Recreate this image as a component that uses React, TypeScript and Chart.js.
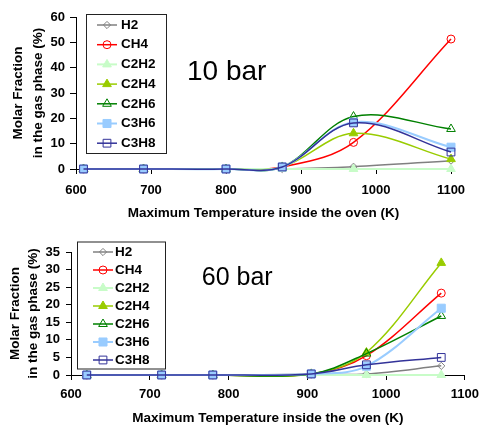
import React, { useEffect, useRef } from 'react';
import { Chart, registerables } from 'chart.js';
import { drawPoint } from 'chart.js/helpers';

Chart.register(...registerables);

// ---------- DATA ----------
const SPECIES = ['H2', 'CH4', 'C2H2', 'C2H4', 'C2H6', 'C3H6', 'C3H8'];

// 10 bar
const TEMP_10BAR = [610, 690, 800, 875, 970, 1100];
const H2_10BAR = [0, 0, 0, 0, 0.9, 3.3];
const CH4_10BAR = [0, 0, 0, 0.8, 10.5, 51.3];
const C2H2_10BAR = [0, 0, 0, 0, 0, 0];
const C2H4_10BAR = [0, 0, 0, 0.8, 14.1, 3.9];
const C2H6_10BAR = [0, 0, 0, 0.8, 20.7, 15.8];
const C3H6_10BAR = [0, 0, 0, 0.8, 18.5, 8.6];
const C3H8_10BAR = [0, 0, 0, 0.8, 18.2, 6.7];

// 60 bar
const TEMP_60BAR = [620, 715, 780, 905, 975, 1070];
const H2_60BAR = [0, 0, 0, 0.2, 0.3, 2.6];
const CH4_60BAR = [0, 0, 0, 0.3, 5.5, 23.3];
const C2H2_60BAR = [0, 0, 0, 0, 0, 0];
const C2H4_60BAR = [0, 0, 0, 0.3, 6.4, 31.9];
const C2H6_60BAR = [0, 0, 0, 0.3, 6.1, 16.8];
const C3H6_60BAR = [0, 0, 0, 0.3, 2.5, 19.0];
const C3H8_60BAR = [0, 0, 0, 0.3, 2.9, 5.0];

const SERIES_10BAR = [H2_10BAR, CH4_10BAR, C2H2_10BAR, C2H4_10BAR, C2H6_10BAR, C3H6_10BAR, C3H8_10BAR];
const SERIES_60BAR = [H2_60BAR, CH4_60BAR, C2H2_60BAR, C2H4_60BAR, C2H6_60BAR, C3H6_60BAR, C3H8_60BAR];

const X_MIN = 600;
const X_MAX = 1100;
const X_STEP = 100;
const Y_MAX_10BAR = 60;
const Y_STEP_10BAR = 10;
const Y_MAX_60BAR = 35;
const Y_STEP_60BAR = 5;

const Y_TITLE = ['Molar Fraction', 'in the gas phase (%)'];
const X_TITLE = 'Maximum Temperature inside the oven (K)';
const LABEL_10BAR = '10 bar';
const LABEL_60BAR = '60 bar';

// ---------- STYLES ----------
const FONT = '"Liberation Sans", Arial, Helvetica, sans-serif';
const STYLES = [
  { color: '#808080', fill: 'rgba(0,0,0,0)', pointStyle: 'rectRot', radius: 3.6, width: 1.5 },
  { color: '#FF0000', fill: 'rgba(0,0,0,0)', pointStyle: 'circle', radius: 4, width: 1.5 },
  { color: '#C8FCC8', fill: '#C8FCC8', pointStyle: 'triangle', radius: 5, width: 2 },
  { color: '#99CC00', fill: '#99CC00', pointStyle: 'triangle', radius: 5, width: 1.5 },
  { color: '#008000', fill: 'rgba(0,0,0,0)', pointStyle: 'triangle', radius: 5, width: 1.5 },
  { color: '#99CCFF', fill: '#99CCFF', pointStyle: 'rect', radius: 5.7, width: 2 },
  { color: '#333399', fill: 'rgba(0,0,0,0)', pointStyle: 'rect', radius: 5.5, width: 1.5 },
];

function makeDatasets(xs: number[], series: number[][]) {
  return series.map((ys, i) => {
    const s = STYLES[i];
    return {
      label: SPECIES[i],
      data: xs.map((x, j) => ({ x, y: ys[j] })),
      borderColor: s.color,
      borderWidth: s.width,
      backgroundColor: s.fill,
      pointStyle: s.pointStyle,
      pointRadius: s.radius,
      pointBackgroundColor: s.fill,
      pointBorderColor: s.color,
      pointBorderWidth: 1,
      tension: 0.35,
      clip: false,
      order: SPECIES.length - i,
    };
  });
}

type LegendBox = {
  left: number; top: number; width: number; height: number;
  firstRow: number; rowGap: number; lineX1: number; lineX2: number; textX: number; fontSize: number;
};

function legendPlugin(box: LegendBox) {
  return {
    id: 'boxLegend',
    afterDatasetsDraw(chart: any) {
      const ctx = chart.ctx;
      ctx.save();
      ctx.fillStyle = '#ffffff';
      ctx.fillRect(box.left, box.top, box.width, box.height);
      ctx.strokeStyle = '#222';
      ctx.lineWidth = 1;
      ctx.strokeRect(box.left + 0.5, box.top + 0.5, box.width, box.height);
      chart.data.datasets.forEach((ds: any, i: number) => {
        const y = box.firstRow + i * box.rowGap;
        ctx.strokeStyle = ds.borderColor;
        ctx.lineWidth = ds.borderWidth;
        ctx.beginPath();
        ctx.moveTo(box.lineX1, y);
        ctx.lineTo(box.lineX2, y);
        ctx.stroke();
        ctx.fillStyle = ds.pointBackgroundColor;
        ctx.strokeStyle = ds.pointBorderColor;
        ctx.lineWidth = ds.pointBorderWidth;
        drawPoint(ctx, { pointStyle: ds.pointStyle, radius: ds.pointRadius, rotation: 0, borderWidth: ds.pointBorderWidth } as any,
          (box.lineX1 + box.lineX2) / 2, y);
        ctx.fillStyle = '#000';
        ctx.font = `bold ${box.fontSize}px ${FONT}`;
        ctx.textAlign = 'left';
        ctx.textBaseline = 'middle';
        ctx.fillText(ds.label, box.textX, y);
      });
      ctx.restore();
    },
  };
}

function textPlugin(text: string, xVal: number, yVal: number, size: number) {
  return {
    id: 'pressureText',
    afterDraw(chart: any) {
      const ctx = chart.ctx;
      const x = chart.scales.x.getPixelForValue(xVal);
      const y = chart.scales.y.getPixelForValue(yVal);
      ctx.save();
      ctx.fillStyle = '#000';
      ctx.font = `${size}px ${FONT}`;
      ctx.textAlign = 'left';
      ctx.textBaseline = 'middle';
      ctx.fillText(text, x, y);
      ctx.restore();
    },
  };
}

type Cfg = {
  height: number;
  xs: number[];
  series: number[][];
  yMax: number;
  yStep: number;
  padding: { top: number; right: number };
  yWidth: number;
  xHeight: number;
  tickFont: number;
  xTickPad: number;
  yTickLen: number;
  yTickPad: number;
  yTitleLineHeight: number;
  yTitlePad: number;
  xTitleLineHeight: number;
  legend: LegendBox;
  label: { text: string; x: number; y: number; size: number };
};

function buildConfig(c: Cfg): any {
  return {
    type: 'line',
    data: { datasets: makeDatasets(c.xs, c.series) },
    options: {
      responsive: false,
      animation: false,
      events: [],
      layout: { padding: { left: 0, top: c.padding.top, right: c.padding.right, bottom: 0 } },
      elements: { line: { capBezierPoints: false } },
      plugins: { legend: { display: false }, tooltip: { enabled: false } },
      scales: {
        x: {
          type: 'linear',
          min: X_MIN,
          max: X_MAX,
          afterFit: (s: any) => { s.height = c.xHeight; },
          grid: { display: true, drawOnChartArea: false, drawTicks: true, tickLength: 5, color: '#000' },
          border: { display: true, color: '#000', width: 1 },
          ticks: {
            stepSize: X_STEP,
            autoSkip: false,
            color: '#000',
            padding: c.xTickPad,
            maxRotation: 0,
            font: { family: FONT, size: c.tickFont, weight: 'bold', lineHeight: 1.2 },
            callback: (v: any) => String(v),
          },
          title: {
            display: true,
            text: X_TITLE,
            color: '#000',
            padding: { top: 0, bottom: 0 },
            font: { family: FONT, size: 13.5, weight: 'bold', lineHeight: `${c.xTitleLineHeight}px` },
          },
        },
        y: {
          type: 'linear',
          min: 0,
          max: c.yMax,
          afterFit: (s: any) => { s.width = c.yWidth; },
          grid: { display: true, drawOnChartArea: false, drawTicks: true, tickLength: c.yTickLen, color: '#000' },
          border: { display: true, color: '#000', width: 1 },
          ticks: {
            stepSize: c.yStep,
            autoSkip: false,
            color: '#000',
            padding: c.yTickPad,
            font: { family: FONT, size: c.tickFont, weight: 'bold', lineHeight: 1.2 },
          },
          title: {
            display: true,
            text: Y_TITLE,
            color: '#000',
            padding: { top: c.yTitlePad, bottom: 0 },
            font: { family: FONT, size: 13.5, weight: 'bold', lineHeight: `${c.yTitleLineHeight}px` },
          },
        },
      },
    },
    plugins: [legendPlugin(c.legend), textPlugin(c.label.text, c.label.x, c.label.y, c.label.size)],
  };
}

const TOP: Cfg = {
  height: 221,
  xs: TEMP_10BAR,
  series: SERIES_10BAR,
  yMax: Y_MAX_10BAR,
  yStep: Y_STEP_10BAR,
  padding: { top: 17, right: 35 },
  yWidth: 76,
  xHeight: 52,
  tickFont: 13,
  xTickPad: 9,
  yTickLen: 6,
  yTickPad: 5,
  yTitleLineHeight: 20,
  yTitlePad: 8,
  xTitleLineHeight: 16,
  legend: { left: 86, top: 14, width: 80, height: 139, firstRow: 25, rowGap: 19.7, lineX1: 97, lineX2: 117, textX: 121, fontSize: 13.5 },
  label: { text: LABEL_10BAR, x: 748, y: 38.3, size: 28 },
};

const BOTTOM: Cfg = {
  height: 204,
  xs: TEMP_60BAR,
  series: SERIES_60BAR,
  yMax: Y_MAX_60BAR,
  yStep: Y_STEP_60BAR,
  padding: { top: 31, right: 16 },
  yWidth: 71,
  xHeight: 50,
  tickFont: 13,
  xTickPad: 7,
  yTickLen: 5,
  yTickPad: 6,
  yTitleLineHeight: 18,
  yTitlePad: 6,
  xTitleLineHeight: 14,
  legend: { left: 77, top: 20.5, width: 88, height: 127, firstRow: 31, rowGap: 18, lineX1: 93, lineX2: 113, textX: 115, fontSize: 13.5 },
  label: { text: LABEL_60BAR, x: 766, y: 27.5, size: 25 },
};

function ChartCanvas({ cfg }: { cfg: Cfg }) {
  const ref = useRef<HTMLCanvasElement | null>(null);
  useEffect(() => {
    if (!ref.current) return;
    const chart = new Chart(ref.current, buildConfig(cfg));
    return () => chart.destroy();
  }, [cfg]);
  return <canvas ref={ref} width={486} height={cfg.height} style={{ display: 'block', width: 486, height: cfg.height }} />;
}

export default function App() {
  return (
    <div style={{ position: 'absolute', left: 0, top: 0, width: 486, height: 425, background: '#fff' }}>
      <ChartCanvas cfg={TOP} />
      <ChartCanvas cfg={BOTTOM} />
    </div>
  );
}
